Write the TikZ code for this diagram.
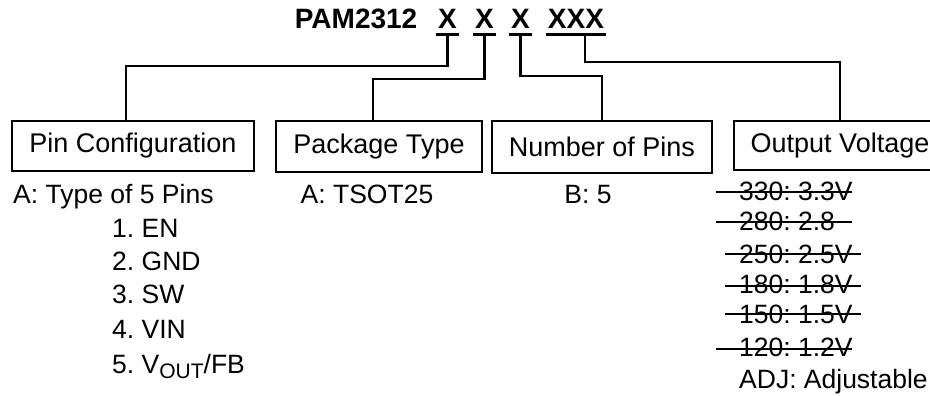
\documentclass[tikz,border=0pt]{standalone}
\usepackage{fontspec}
\setmainfont{Liberation Sans}
\frenchspacing

\begin{document}
\begin{tikzpicture}[x=1pt, y=-1pt]
    % Define styles
    \tikzstyle{field}=[draw, line width=2.6pt, inner sep=0pt, font=\fontsize{27}{30}\selectfont]
    \tikzstyle{code}=[inner xsep=1.5pt, inner ysep=0pt, text depth=5.5pt, anchor=base, font=\fontsize{28}{30}\selectfont\bfseries]
    \tikzstyle{info}=[inner sep=0pt, anchor=base west, font=\fontsize{26.5}{30}\selectfont]
    \tikzstyle{wire}=[line width=2.6pt]
    \tikzstyle{strike}=[line width=2.8pt]

    \useasboundingbox (0,0) rectangle (930,396);

    % Part number with its code letters
    \node[code, anchor=base east, text depth=0pt] (part) at (419,29) {PAM2312};
    \node[code] (x1) at (447.5,29) {X};
    \node[code] (x2) at (484.5,29) {X};
    \node[code] (x3) at (520.5,29) {X};
    \node[code] (x4) at (576,29) {XXX};
    \draw[wire] (x1.south west) -- (x1.south east);
    \draw[wire] (x2.south west) -- (x2.south east);
    \draw[wire] (x3.south west) -- (x3.south east);
    \draw[wire] (x4.south west) -- (x4.south east);

    % Row of field boxes
    \node[field, minimum width=242pt, minimum height=50pt] (pin) at (133,146) {Pin Configuration};
    \node[field, minimum width=206pt, minimum height=51pt] (pkg) at (379,146.5) {Package Type};
    \node[field, minimum width=220pt, minimum height=52pt] (num) at (602,147) {Number of Pins};
    \node[field, minimum width=212pt, minimum height=49pt] (out) at (840,145.5) {Output Voltage};

    % Lines from the code letters down to the boxes
    \draw[wire] (x1.south) -- ++(0,31.5) -| ([xshift=-7pt]pin.north);
    \draw[wire] (x2.south) -- ++(0,44.5) -| ([xshift=-6pt]pkg.north);
    \draw[wire] (x3.south) -- ++(0,41.5) -| (num.north);
    \draw[wire] ([xshift=9pt]x4.south) -- ++(0,27.5) -| (out.north);

    % Pin configuration
    \node[info] (pinA) at (13,203) {A: Type of 5 Pins};
    \node[info] (pin1) at (112,237) {1. EN};
    \node[info] (pin2) at (112,270) {2. GND};
    \node[info] (pin3) at (112,303) {3. SW};
    \node[info] (pin4) at (112,338) {4. VIN};
    \node[info] (pin5) at (112,373) {5. V\raisebox{-5pt}{\fontsize{21}{22}\selectfont OUT}/FB};

    % Package type and number of pins
    \node[info, anchor=base] (pkgA) at (367,203) {A: TSOT25};
    \node[info, anchor=base] (numB) at (588,203) {B: 5};

    % Output voltage
    \node[info] (v330) at (739,200) {330: 3.3V};
    \node[info] (v280) at (739,230) {280: 2.8};
    \node[info] (v250) at (739,263) {250: 2.5V};
    \node[info] (v180) at (739,293) {180: 1.8V};
    \node[info] (v150) at (739,323) {150: 1.5V};
    \node[info] (v120) at (739,356) {120: 1.2V};
    \node[info] (vadj) at (739,388) {ADJ: Adjustable};
    \draw[strike] ([xshift=-23pt, yshift=8pt]v330.base west) -- ++(136,0);
    \draw[strike] ([xshift=-23pt, yshift=8pt]v280.base west) -- ++(136,0);
    \draw[strike] ([xshift=-14pt, yshift=9pt]v250.base west) -- ++(136,0);
    \draw[strike] ([xshift=-14pt, yshift=7pt]v180.base west) -- ++(136,0);
    \draw[strike] ([xshift=-14pt, yshift=9pt]v150.base west) -- ++(136,0);
    \draw[strike] ([xshift=-23pt, yshift=7pt]v120.base west) -- ++(136,0);
\end{tikzpicture}
\end{document}
